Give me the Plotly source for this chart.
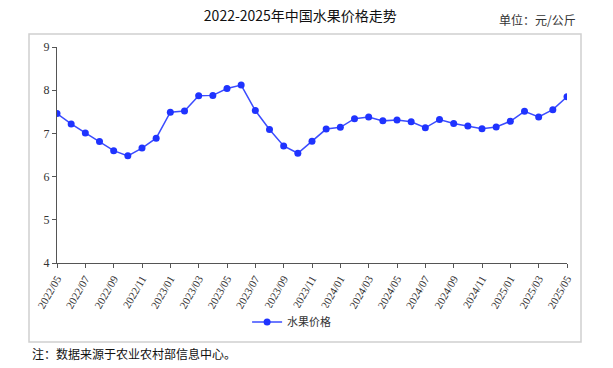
import plotly.graph_objects as go

months = ["2022/05","2022/06","2022/07","2022/08","2022/09","2022/10","2022/11","2022/12",
          "2023/01","2023/02","2023/03","2023/04","2023/05","2023/06","2023/07","2023/08",
          "2023/09","2023/10","2023/11","2023/12","2024/01","2024/02","2024/03","2024/04",
          "2024/05","2024/06","2024/07","2024/08","2024/09","2024/10","2024/11","2024/12",
          "2025/01","2025/02","2025/03","2025/04","2025/05"]
prices = [7.46,7.22,7.01,6.81,6.60,6.48,6.66,6.89,
          7.49,7.52,7.87,7.88,8.04,8.12,7.53,7.09,
          6.71,6.54,6.82,7.10,7.14,7.34,7.38,7.29,
          7.31,7.27,7.13,7.32,7.23,7.17,7.11,7.15,
          7.28,7.51,7.38,7.55,7.85]
tick_labels = months[::2]
series_name = "水果价格"

fig = go.Figure()
fig.add_trace(go.Scatter(
    x=months, y=prices, mode="lines+markers", name=series_name,
    line=dict(color="#3b4cff", width=1.5),
    marker=dict(color="#1f33ff", size=7),
))

fig.update_layout(
    width=613, height=368,
    margin=dict(l=57, r=46, t=47, b=105, autoexpand=False),
    paper_bgcolor="white", plot_bgcolor="white",
    showlegend=True,
    legend=dict(orientation="h", x=0.46, xanchor="center", y=-(322-263)/216, yanchor="middle",
                font=dict(family="Noto Sans CJK SC", size=11, color="#333")),
    font=dict(family="Liberation Serif", size=11, color="#333"),
    title=dict(text="2022-2025年中国水果价格走势", x=0.49, xanchor="center", y=0.955, yanchor="middle",
               font=dict(family="Noto Sans CJK SC", size=14, color="#111")),
)
fig.update_xaxes(
    type="category", tickmode="array", tickvals=tick_labels, ticktext=tick_labels,
    tickangle=-60, showline=True, linecolor="#555", linewidth=1, automargin=False,
    ticks="outside", ticklen=4, tickcolor="#555", showgrid=False,
    range=[0, len(months)-1],
    tickfont=dict(family="Liberation Serif", size=11, color="#333"),
)
fig.update_yaxes(
    range=[4, 9], dtick=1, showline=True, linecolor="#555", linewidth=1, automargin=False,
    ticks="outside", ticklen=4, tickcolor="#555", showgrid=False, zeroline=False,
    tickfont=dict(family="Liberation Serif", size=12, color="#333"),
)
fig.add_shape(type="rect", xref="paper", yref="paper",
              x0=-28/510, x1=(581-57)/510, y0=-(342-263)/216, y1=1+(47-34)/216,
              line=dict(color="#d0d0d0", width=1.5), layer="below")
fig.add_annotation(text="单位：元/公斤", xref="paper", yref="paper",
                   x=(578-57)/510, y=1+(47-19)/216, xanchor="right", yanchor="middle",
                   showarrow=False, font=dict(family="Noto Sans CJK SC", size=12, color="#333"))
fig.add_annotation(text="注：数据来源于农业农村部信息中心。", xref="paper", yref="paper",
                   x=-(57-30)/510, y=-(353-263)/216, xanchor="left", yanchor="middle",
                   showarrow=False, font=dict(family="Noto Sans CJK SC", size=12, color="#111"))

fig.write_html("out.html", config={"displayModeBar": False},
               post_script="document.body.style.margin='0';document.body.style.padding='0';")
